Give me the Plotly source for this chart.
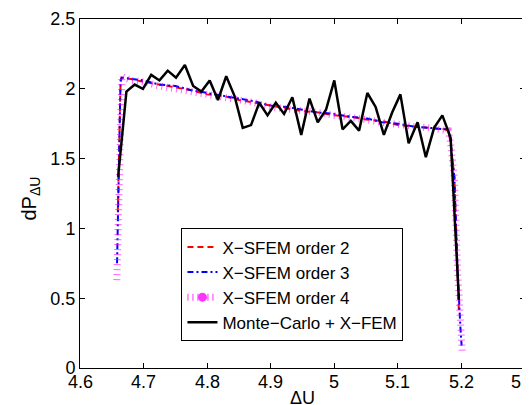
import plotly.graph_objects as go

# Monte-Carlo + X-FEM histogram density
mc_x = [4.660, 4.673, 4.686, 4.699, 4.712, 4.725, 4.738, 4.751, 4.765, 4.778,
        4.791, 4.804, 4.817, 4.830, 4.843, 4.856, 4.869, 4.882, 4.895, 4.908,
        4.921, 4.934, 4.948, 4.961, 4.974, 4.987, 5.000, 5.013, 5.026, 5.039,
        5.052, 5.065, 5.078, 5.091, 5.104, 5.117, 5.131, 5.144, 5.157, 5.170,
        5.183, 5.196]
mc_y = [1.37, 1.98, 2.03, 2.00, 2.10, 2.06, 2.13, 2.08, 2.17, 2.02,
        1.98, 2.06, 1.92, 2.09, 1.95, 1.72, 1.74, 1.90, 1.81, 1.90,
        1.82, 1.94, 1.67, 1.93, 1.76, 1.85, 2.06, 1.71, 1.77, 1.70,
        1.97, 1.87, 1.67, 1.83, 1.96, 1.61, 1.76, 1.51, 1.72, 1.81,
        1.65, 0.49]

# X-SFEM order 2
o2_x = [4.6595, 4.6615, 4.6635, 4.665, 4.68, 4.70, 4.725, 4.75, 4.775, 4.80,
        4.825, 4.85, 4.875, 4.90, 4.925, 4.95, 4.975, 5.00, 5.025, 5.05,
        5.075, 5.10, 5.125, 5.15, 5.175, 5.1795, 5.1827, 5.189, 5.1937, 5.196]
o2_y = [1.12, 1.60, 2.00, 2.08, 2.07, 2.05, 2.03, 2.01, 1.99, 1.96,
        1.95, 1.92, 1.90, 1.88, 1.86, 1.84, 1.83, 1.81, 1.80, 1.78,
        1.77, 1.74, 1.73, 1.72, 1.71, 1.70, 1.62, 1.36, 0.72, 0.40]

# X-SFEM order 3
o3_x = [4.6583, 4.6605, 4.6625, 4.6638, 4.666, 4.68, 4.70, 4.725, 4.75, 4.775,
        4.80, 4.825, 4.85, 4.875, 4.90, 4.925, 4.95, 4.975, 5.00, 5.025,
        5.05, 5.075, 5.10, 5.125, 5.15, 5.175, 5.1795, 5.1827, 5.189, 5.1937,
        5.1984, 5.2003]
o3_y = [0.75, 1.30, 1.85, 2.06, 2.08, 2.07, 2.06, 2.03, 2.02, 1.99,
        1.97, 1.95, 1.93, 1.91, 1.88, 1.87, 1.85, 1.83, 1.82, 1.80,
        1.79, 1.76, 1.75, 1.73, 1.72, 1.71, 1.70, 1.63, 1.36, 0.72,
        0.29, 0.16]

# X-SFEM order 4
o4_x = [4.6580, 4.6605, 4.6625, 4.6638, 4.666, 4.68, 4.70, 4.725, 4.75, 4.775,
        4.80, 4.825, 4.85, 4.875, 4.90, 4.925, 4.95, 4.975, 5.00, 5.025,
        5.05, 5.075, 5.10, 5.125, 5.15, 5.175, 5.1795, 5.1827, 5.189, 5.1937,
        5.1984, 5.2015]
o4_y = [0.63, 1.30, 1.85, 2.07, 2.09, 2.06, 2.05, 2.02, 2.00, 1.98,
        1.96, 1.95, 1.92, 1.90, 1.87, 1.86, 1.84, 1.83, 1.81, 1.80,
        1.78, 1.76, 1.74, 1.73, 1.72, 1.71, 1.70, 1.62, 1.36, 0.72,
        0.29, 0.10]

x_ticks = [4.6, 4.7, 4.8, 4.9, 5.0, 5.1, 5.2, 5.3]
x_ticklabels = ["4.6", "4.7", "4.8", "4.9", "5", "5.1", "5.2", "5.3"]
y_ticks = [0, 0.5, 1, 1.5, 2, 2.5]
y_ticklabels = ["0", "0.5", "1", "1.5", "2", "2.5"]

FONT = "Liberation Sans, Arial, Helvetica, sans-serif"
MAG_DASH = "1px,4px"

fig = go.Figure()
fig.add_trace(go.Scatter(x=o2_x, y=o2_y, mode="lines", name="X\u2212SFEM order 2",
                         line=dict(color="#ff0000", width=2, dash="6px,4px")))
fig.add_trace(go.Scatter(x=o3_x, y=o3_y, mode="lines", name="X\u2212SFEM order 3",
                         line=dict(color="#0000ff", width=2, dash="6px,3px,2px,3px")))
fig.add_trace(go.Scatter(x=o4_x, y=o4_y, mode="lines", name="X\u2212SFEM order 4",
                         showlegend=False, legendgroup="o4", opacity=0.6,
                         line=dict(color="#ff00ff", width=7, dash=MAG_DASH)))
fig.add_trace(go.Scatter(x=[None], y=[None], mode="lines+markers", name="X\u2212SFEM order 4",
                         legendgroup="o4", opacity=0.8,
                         line=dict(color="#ff00ff", width=7, dash=MAG_DASH),
                         marker=dict(color="#ff00ff", size=9, symbol="circle")))
fig.add_trace(go.Scatter(x=mc_x, y=mc_y, mode="lines", name="Monte\u2212Carlo + X\u2212FEM",
                         line=dict(color="#000000", width=2.5)))

axis_common = dict(showline=True, linecolor="black", linewidth=1, mirror="ticks",
                   ticks="inside", ticklen=5, tickcolor="black", tickwidth=1,
                   showgrid=False, zeroline=False, automargin=False,
                   tickfont=dict(family=FONT, size=18, color="black"))

# x tick labels and axis titles as annotations placed relative to the plot area
annotations = []
for v, t in zip(x_ticks, x_ticklabels):
    annotations.append(dict(x=v, xref="x", y=0, yref="paper", yanchor="middle",
                            yshift=-14, xshift=(-2 if v == x_ticks[-1] else 0),
                            text=t, showarrow=False, borderpad=0,
                            font=dict(family=FONT, size=18, color="black")))
annotations.append(dict(x=0.5, xref="paper", y=0, yref="paper", yanchor="middle",
                        yshift=-30, text="\u0394U", showarrow=False, borderpad=0,
                        font=dict(family=FONT, size=18, color="black")))
annotations.append(dict(x=0, xref="paper", y=0.5, yref="paper", xanchor="center",
                        yanchor="middle", xshift=-50, yshift=-5, textangle=-90,
                        text="dP<sub>\u0394U</sub>", showarrow=False, borderpad=0,
                        font=dict(family=FONT, size=20, color="black")))

fig.update_layout(
    width=530, height=405,
    margin=dict(l=72, r=13, t=11, b=45),
    paper_bgcolor="white", plot_bgcolor="white",
    font=dict(family=FONT, size=18, color="black"),
    xaxis=dict(range=[4.6, 5.3], tickvals=x_ticks, showticklabels=False,
               **axis_common),
    yaxis=dict(range=[0, 2.5], tickvals=y_ticks, ticktext=y_ticklabels,
               **axis_common),
    legend=dict(x=0.228, y=0.40, xanchor="left", yanchor="top",
                bgcolor="white", bordercolor="black", borderwidth=1,
                font=dict(family=FONT, size=17, color="black"),
                itemwidth=30, tracegroupgap=0),
    annotations=annotations,
    showlegend=True,
)

fig.write_html("out.html")
